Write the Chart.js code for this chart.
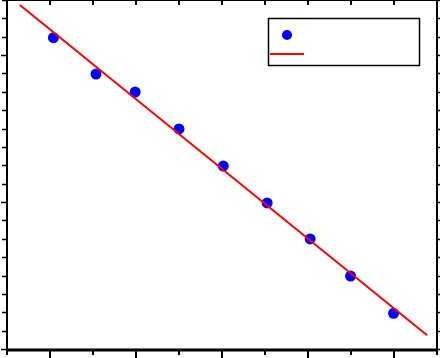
<!DOCTYPE html>
<html>
<head>
<meta charset="utf-8">
<script src="https://cdn.jsdelivr.net/npm/chart.js@4/dist/chart.umd.min.js"></script>
<style>
  html, body { margin: 0; padding: 0; background: #fff; }
  #wrap { width: 440px; height: 358px; }
</style>
</head>
<body>
<div id="wrap"><canvas id="chart" width="440" height="358"></canvas></div>
<script>
// measured points
const xValues = [1.08, 2.07, 2.98, 4.0, 5.03, 6.05, 7.05, 7.99, 8.99];
const yValues = [16.95, 14.97, 13.99, 11.98, 9.96, 7.95, 5.99, 3.97, 1.94];
// fitted line, two ends
const fitX = [0.30, 9.77];
const fitY = [18.73, 0.75];
// axis tick positions
const xTicks = [0, 1, 2, 3, 4, 5, 6, 7, 8, 9, 10];
const yTicks = [0, 1, 2, 3, 4, 5, 6, 7, 8, 9, 10, 11, 12, 13, 14, 15, 16, 17, 18, 19];

const frame = {
  id: 'frame',
  afterDraw(chart) {
    const { ctx, chartArea: a, scales } = chart;
    ctx.save();
    ctx.strokeStyle = '#000';
    // border
    ctx.lineWidth = 2;
    ctx.beginPath();
    ctx.moveTo(a.left, a.top); ctx.lineTo(a.left, a.bottom);
    ctx.moveTo(a.right, a.top); ctx.lineTo(a.right, a.bottom);
    ctx.moveTo(a.left, a.top); ctx.lineTo(a.right, a.top);
    ctx.stroke();
    ctx.lineWidth = 3;
    ctx.beginPath();
    ctx.moveTo(a.left - 1, a.bottom + 1); ctx.lineTo(a.right + 1, a.bottom + 1);
    ctx.stroke();

    // x ticks, bottom outward and top inward
    ctx.lineWidth = 2;
    xTicks.forEach(v => {
      const px = Math.round(scales.x.getPixelForValue(v));
      const len = v % 2 ? 7 : 4;
      ctx.beginPath();
      ctx.moveTo(px, a.bottom + 2); ctx.lineTo(px, a.bottom + 2 + len);
      if (v > 0 && v < 10) { ctx.moveTo(px, a.top); ctx.lineTo(px, a.top + 5); }
      ctx.stroke();
    });
    // y ticks, left and right outward
    ctx.lineWidth = 1.5;
    yTicks.forEach(v => {
      const py = Math.round(scales.y.getPixelForValue(v)) + 0.5;
      const len = v % 8 === 0 ? 6 : 5;
      ctx.beginPath();
      ctx.moveTo(a.left, py); ctx.lineTo(a.left - len, py);
      ctx.moveTo(a.right, py); ctx.lineTo(a.right + 4, py);
      ctx.stroke();
    });

    // legend box (no labels)
    ctx.lineWidth = 1.5;
    ctx.strokeRect(268.5, 18.5, 151, 47);
    ctx.fillStyle = '#0000ff';
    ctx.beginPath();
    ctx.arc(287, 35, 5, 0, Math.PI * 2);
    ctx.fill();
    ctx.strokeStyle = '#ff0000';
    ctx.lineWidth = 2;
    ctx.beginPath();
    ctx.moveTo(270, 54); ctx.lineTo(304, 54);
    ctx.stroke();
    ctx.restore();
  }
};

new Chart(document.getElementById('chart'), {
  type: 'scatter',
  data: {
    datasets: [
      {
        label: '',
        data: xValues.map((x, i) => ({ x, y: yValues[i] })),
        backgroundColor: '#0000ff',
        borderColor: '#0000ff',
        pointRadius: 5.5,
        pointBorderWidth: 0,
        order: 1
      },
      {
        type: 'line',
        label: '',
        data: fitX.map((x, i) => ({ x, y: fitY[i] })),
        borderColor: '#ff0000',
        borderWidth: 2,
        pointRadius: 0,
        fill: false,
        order: 0
      }
    ]
  },
  options: {
    responsive: false,
    animation: false,
    events: [],
    layout: { autoPadding: false, padding: { left: 7, top: 0, right: 3, bottom: 9 } },
    plugins: { legend: { display: false }, tooltip: { enabled: false } },
    scales: {
      x: { type: 'linear', min: 0, max: 10, display: false },
      y: { type: 'linear', min: 0, max: 19, display: false }
    }
  },
  plugins: [frame]
});
</script>
</body>
</html>
